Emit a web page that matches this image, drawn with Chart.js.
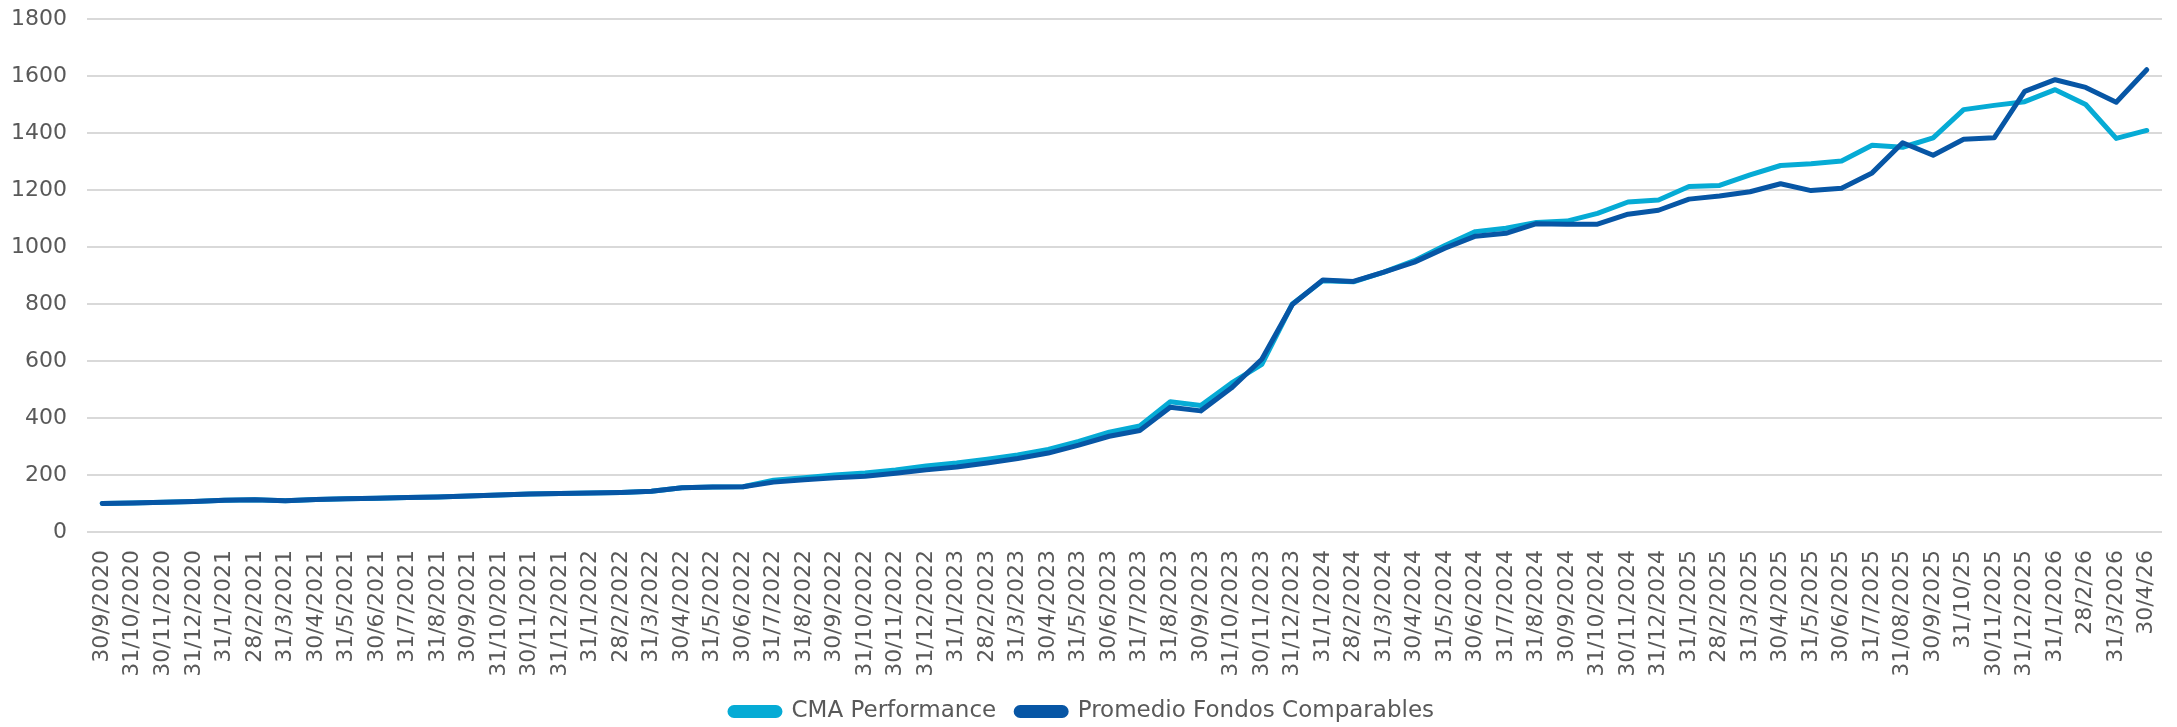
<!DOCTYPE html>
<html lang="es">
<head>
<meta charset="UTF-8">
<title>CMA Performance vs Promedio Fondos Comparables</title>
<script src="https://cdn.jsdelivr.net/npm/chart.js"></script>
<style>
    html, body { margin: 0; padding: 0; background: #ffffff; }
    .wrap { width: 2177px; height: 727px; position: relative; }
</style>
</head>
<body>
<div class="wrap"><canvas id="chart"></canvas></div>
<script>
const labels = [
    '30/9/2020', '31/10/2020', '30/11/2020', '31/12/2020',
    '31/1/2021', '28/2/2021', '31/3/2021', '30/4/2021', '31/5/2021', '30/6/2021',
    '31/7/2021', '31/8/2021', '30/9/2021', '31/10/2021', '30/11/2021', '31/12/2021',
    '31/1/2022', '28/2/2022', '31/3/2022', '30/4/2022', '31/5/2022', '30/6/2022',
    '31/7/2022', '31/8/2022', '30/9/2022', '31/10/2022', '30/11/2022', '31/12/2022',
    '31/1/2023', '28/2/2023', '31/3/2023', '30/4/2023', '31/5/2023', '30/6/2023',
    '31/7/2023', '31/8/2023', '30/9/2023', '31/10/2023', '30/11/2023', '31/12/2023',
    '31/1/2024', '28/2/2024', '31/3/2024', '30/4/2024', '31/5/2024', '30/6/2024',
    '31/7/2024', '31/8/2024', '30/9/2024', '31/10/2024', '30/11/2024', '31/12/2024',
    '31/1/2025', '28/2/2025', '31/3/2025', '30/4/2025', '31/5/2025', '30/6/2025',
    '31/7/2025', '31/08/2025', '30/9/2025', '31/10/25', '30/11/2025', '31/12/2025',
    '31/1/2026', '28/2/26', '31/3/2026', '30/4/26'
];

const cmaPerformance = [
    100, 102, 104, 107,
    111, 113, 110, 114, 117, 118, 121, 123, 126, 130, 133, 135,
    137, 139, 143, 155, 158, 159, 182, 190, 200, 207, 218, 232,
    242, 255, 270, 290, 318, 350, 372, 457, 444, 522, 588, 800,
    882, 878, 912, 952, 1005, 1054, 1066, 1086, 1091, 1118, 1158, 1165,
    1212, 1216, 1253, 1286, 1292, 1302, 1357, 1350, 1383, 1482, 1497, 1510,
    1552, 1500, 1381, 1409
];

const promedioFondos = [
    100, 102, 104, 107,
    111, 113, 110, 114, 117, 118, 121, 123, 126, 130, 133, 135,
    137, 139, 143, 155, 158, 159, 175, 183, 190, 196, 206, 218,
    228, 242, 258, 277, 305, 336, 356, 438, 425, 505, 606, 798,
    884, 879, 912, 947, 996, 1038, 1048, 1082, 1080, 1080, 1115, 1129,
    1168, 1179, 1194, 1222, 1198, 1206, 1260, 1366, 1322, 1378, 1383, 1546,
    1587, 1560, 1508, 1622
];

const yTicks = [0, 200, 400, 600, 800, 1000, 1200, 1400, 1600, 1800];

const CYAN = '#06ABD5';
const NAVY = '#0756A5';
const TEXT = '#595959';

Chart.defaults.font.family = '"DejaVu Sans", "Noto Sans", sans-serif';
Chart.defaults.color = TEXT;

new Chart(document.getElementById('chart'), {
    type: 'line',
    data: {
        labels: labels,
        datasets: [
            {
                label: 'CMA Performance',
                data: cmaPerformance,
                borderColor: CYAN,
                backgroundColor: CYAN,
                borderWidth: 5,
                pointRadius: 0,
                tension: 0,
                borderCapStyle: 'round',
                borderJoinStyle: 'round',
                order: 2
            },
            {
                label: 'Promedio Fondos Comparables',
                data: promedioFondos,
                borderColor: NAVY,
                backgroundColor: NAVY,
                borderWidth: 5,
                pointRadius: 0,
                tension: 0,
                borderCapStyle: 'round',
                borderJoinStyle: 'round',
                order: 1
            }
        ]
    },
    options: {
        responsive: true,
        maintainAspectRatio: false,
        devicePixelRatio: 1,
        animation: false,
        layout: { padding: { top: 0, right: 4, left: -9, bottom: -6 } },
        plugins: {
            legend: {
                position: 'bottom',
                labels: {
                    sort: (a, b) => a.datasetIndex - b.datasetIndex,
                    boxWidth: 50,
                    boxHeight: 8,
                    useBorderRadius: true,
                    borderRadius: 4,
                    padding: 20,
                    font: { size: 23 },
                    color: TEXT
                }
            },
            tooltip: { enabled: false }
        },
        scales: {
            x: {
                offset: true,
                grid: { display: false, drawTicks: false },
                border: { display: false },
                afterFit: scale => {
                    scale.height = 148;
                    scale.paddingLeft = 0;
                    scale.paddingRight = 15;
                },
                ticks: {
                    autoSkip: false,
                    maxRotation: 90,
                    minRotation: 90,
                    padding: 18,
                    font: { size: 22 },
                    color: TEXT
                }
            },
            y: {
                min: 0,
                max: 1800,
                afterBuildTicks: axis => { axis.ticks = yTicks.map(v => ({ value: v })); },
                afterFit: scale => { scale.paddingTop = 19; },
                grid: { color: '#d9d9d9', lineWidth: 2, drawTicks: false },
                border: { display: false },
                ticks: {
                    padding: 20,
                    font: { size: 22 },
                    color: TEXT,
                    callback: value => String(value)
                }
            }
        }
    }
});
</script>
</body>
</html>
